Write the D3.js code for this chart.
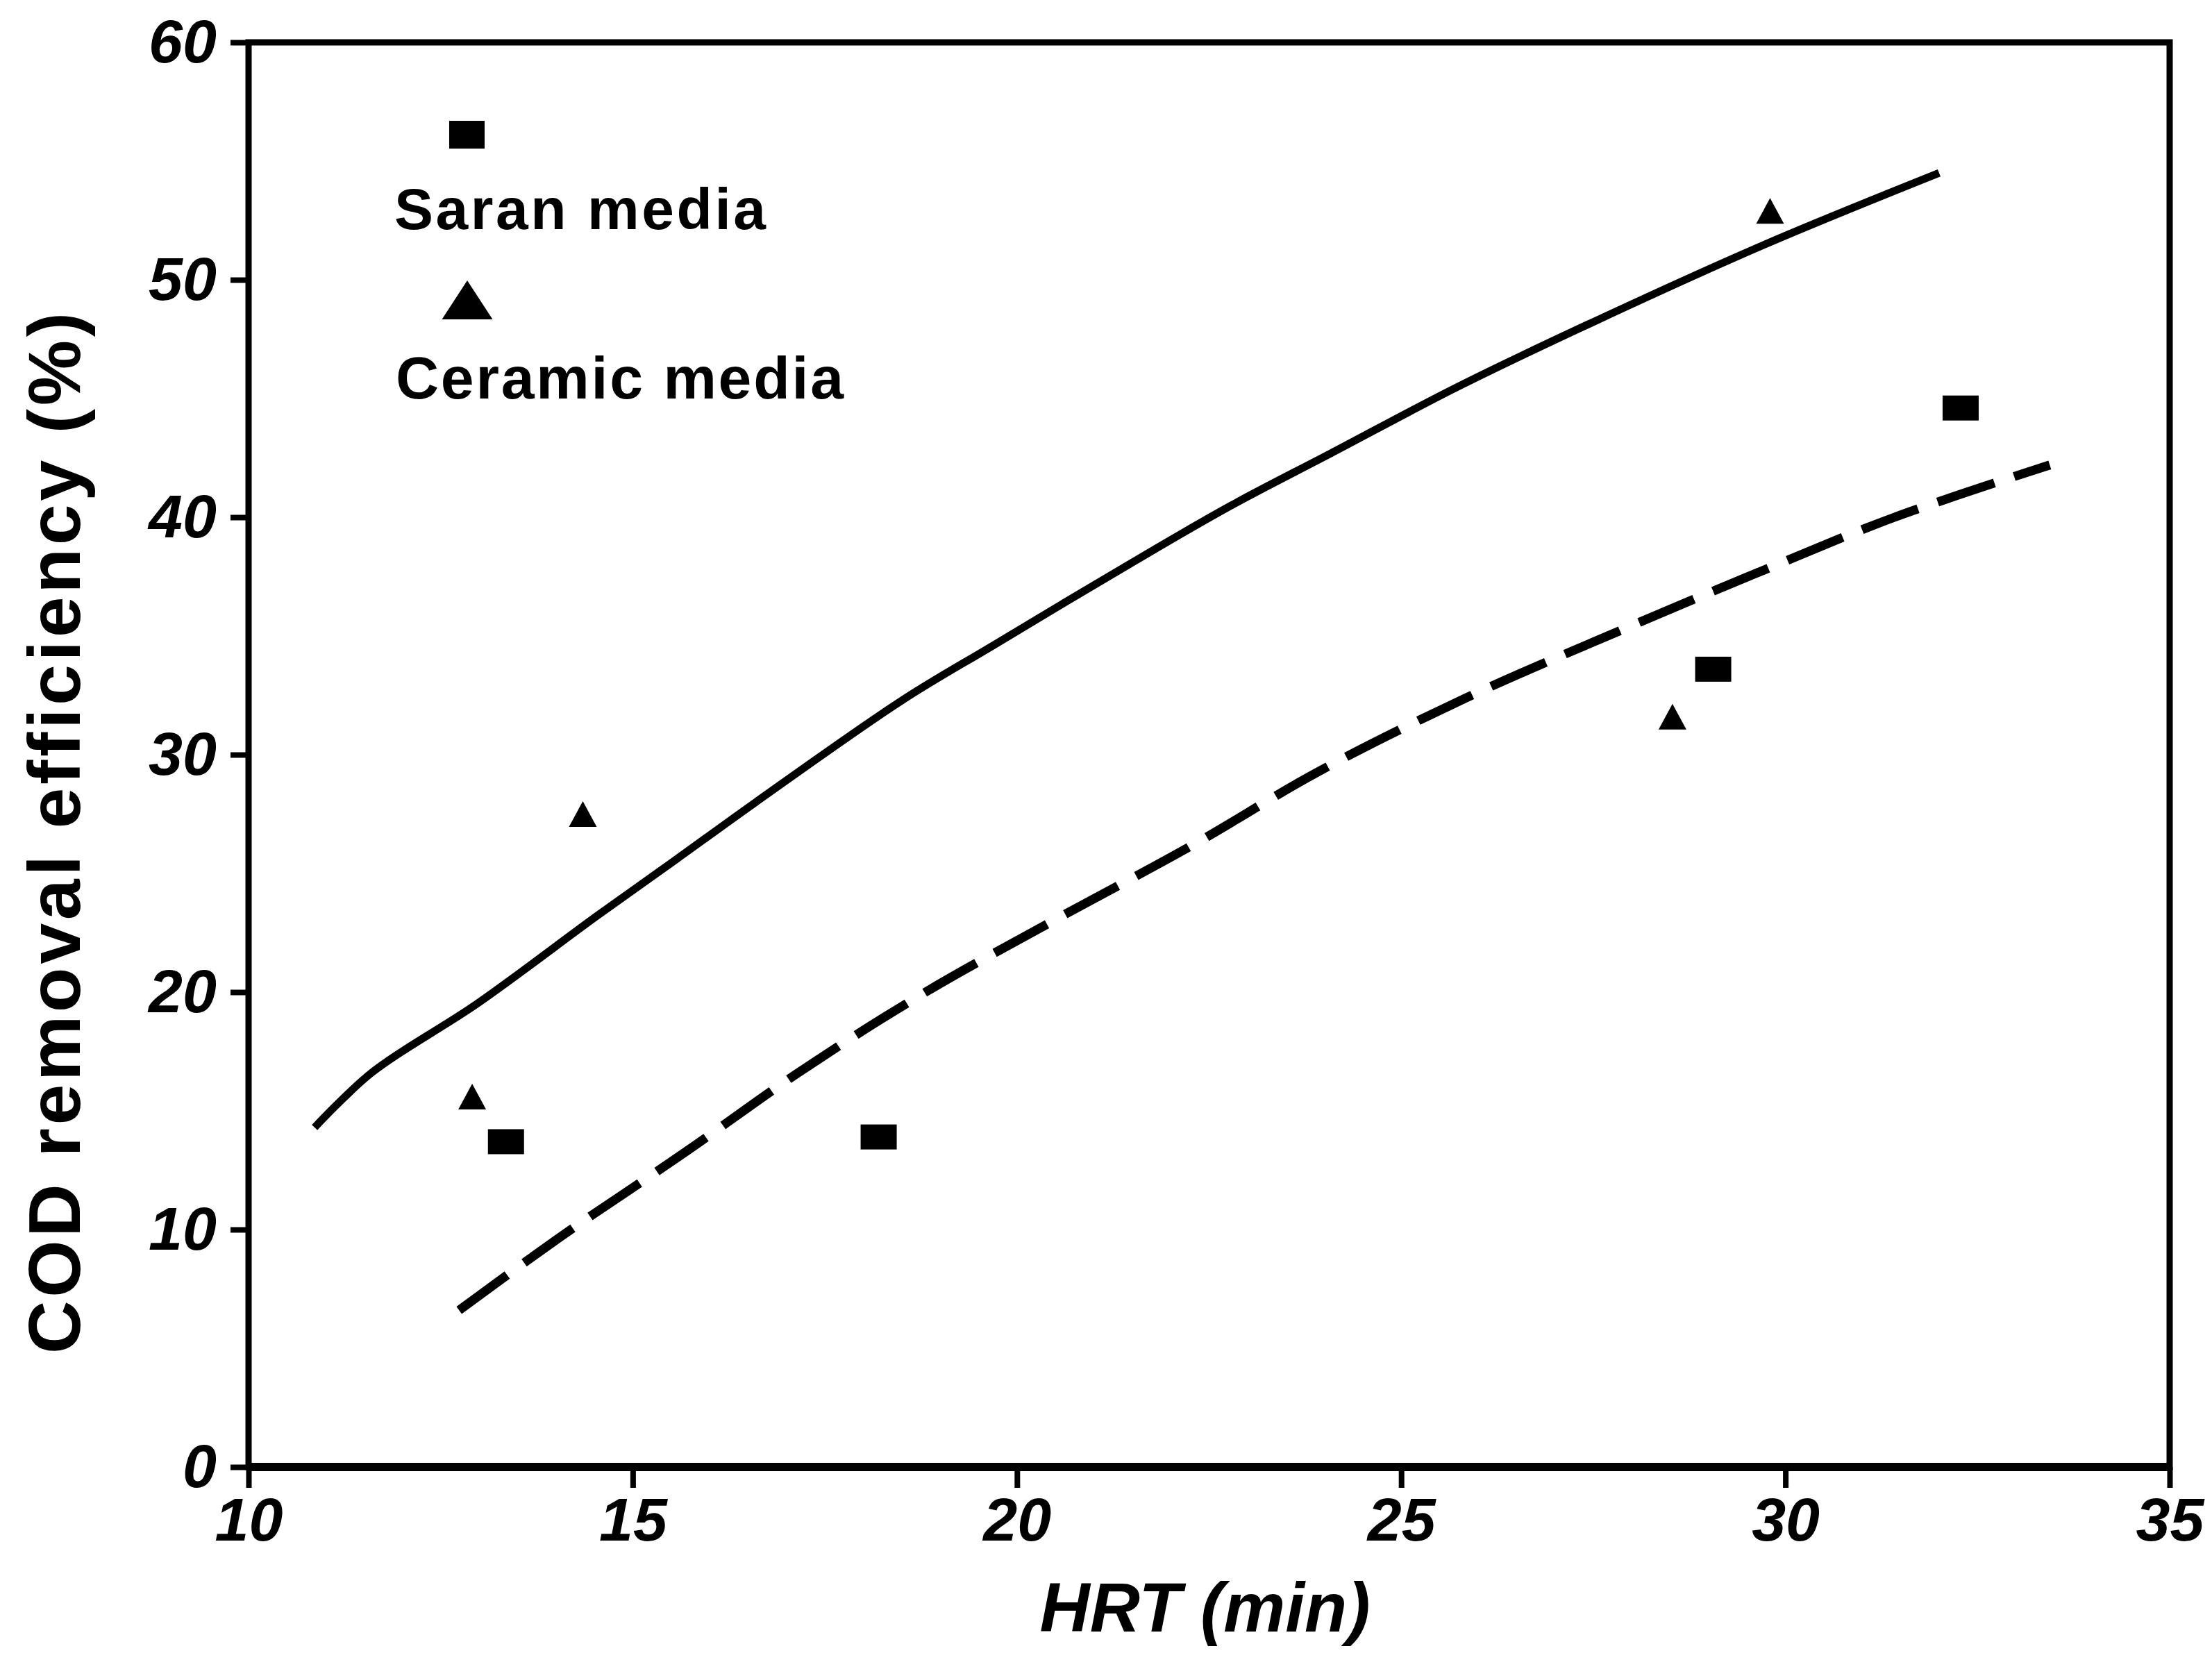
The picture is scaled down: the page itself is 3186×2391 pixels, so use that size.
<!DOCTYPE html>
<html>
<head>
<meta charset="utf-8">
<script src="https://cdn.jsdelivr.net/npm/d3@7"></script>
<style>
  body { margin: 0; background: #fff; }
  svg { display: block; }
  text { font-family: "Liberation Sans", Arial, sans-serif; font-weight: bold; fill: #000; }
</style>
</head>
<body>
<svg id="chart" width="3186" height="2391"></svg>
<script>
// tick values
const hrtTicks = [10, 15, 20, 25, 30, 35];
const codTicks = [0, 10, 20, 30, 40, 50, 60];

// measured points (HRT in min, COD removal in %)
const saranHRT = [13.35, 18.2, 29.06, 32.28];
const saranCOD = [13.7, 13.9, 33.6, 44.6];
const ceramicHRT = [12.91, 14.35, 28.53, 29.8];
const ceramicCOD = [15.6, 27.5, 31.6, 52.9];

// fitted curves
const ceramicFitHRT = [10.86, 11.6, 12.97, 14.53, 15.57, 16.6, 18.51, 19.69, 21.45, 22.79, 24.09, 25.74, 27.55, 29.74, 32.0];
const ceramicFitCOD = [14.3, 16.6, 19.5, 23.2, 25.6, 28.0, 32.3, 34.6, 38.0, 40.5, 42.7, 45.5, 48.3, 51.5, 54.5];
const saranFitHRT = [12.74, 14.04, 15.7, 17.15, 18.81, 20.47, 22.29, 23.93, 25.85, 27.83, 29.59, 31.42, 33.44];
const saranFitCOD = [6.6, 9.65, 13.3, 16.6, 20.0, 23.0, 26.2, 29.3, 32.4, 35.2, 37.6, 40.0, 42.2];

const legendLabels = ["Saran media", "Ceramic media"];

const svg = d3.select("#chart");
svg.append("rect").attr("width", 3186).attr("height", 2391).attr("fill", "#fff");

const x = d3.scaleLinear().domain([10, 35]).range([358, 3125]);
const y = d3.scaleLinear().domain([0, 60]).range([2113, 61]);

const zip = (a, b) => a.map((v, i) => [v, b[i]]);

// frame
svg.append("rect")
  .attr("x", x(10)).attr("y", y(60))
  .attr("width", x(35) - x(10)).attr("height", y(0) - y(60))
  .attr("fill", "none").attr("stroke", "#000").attr("stroke-width", 9);
svg.append("line")
  .attr("x1", x(10)).attr("x2", x(35)).attr("y1", y(0)).attr("y2", y(0))
  .attr("stroke", "#000").attr("stroke-width", 12);

// axes
const xAxis = svg.append("g")
  .attr("transform", `translate(0,${y(0)})`)
  .call(d3.axisBottom(x).tickValues(hrtTicks).tickSize(30).tickSizeOuter(0).tickPadding(14));
const yAxis = svg.append("g")
  .attr("transform", `translate(${x(10)},0)`)
  .call(d3.axisLeft(y).tickValues(codTicks).tickSize(26).tickSizeOuter(0).tickPadding(20));

[xAxis, yAxis].forEach(g => {
  g.select(".domain").remove();
  g.selectAll(".tick line").attr("stroke", "#000").attr("stroke-width", 8);
  g.selectAll(".tick text")
    .style("font-size", "88px")
    .style("font-style", "italic")
    .style("font-family", "'Liberation Sans', Arial, sans-serif")
    .style("font-weight", "bold")
    .attr("fill", "#000");
});

// axis titles
svg.append("text")
  .attr("x", (x(10) + x(35)) / 2 - 6)
  .attr("y", 2350)
  .attr("text-anchor", "middle")
  .style("font-size", "100px")
  .style("font-style", "italic")
  .text("HRT (min)");

svg.append("text")
  .attr("transform", `translate(115,1200) rotate(-90)`)
  .attr("text-anchor", "middle")
  .attr("textLength", 1500)
  .attr("lengthAdjust", "spacing")
  .style("font-size", "106px")
  .text("COD removal efficiency (%)");

// fitted lines
const line = d3.line()
  .x(d => x(d[0]))
  .y(d => y(d[1]))
  .curve(d3.curveCatmullRom.alpha(0.5));

svg.append("path")
  .attr("d", line(zip(ceramicFitHRT, ceramicFitCOD)))
  .attr("fill", "none").attr("stroke", "#000").attr("stroke-width", 11);

svg.append("path")
  .attr("d", line(zip(saranFitHRT, saranFitCOD)))
  .attr("fill", "none").attr("stroke", "#000").attr("stroke-width", 13)
  .attr("stroke-dasharray", "86 30");

// markers
function triangle(cx, cy, w, h) {
  return `M${cx},${cy - h / 2}L${cx + w / 2},${cy + h / 2}L${cx - w / 2},${cy + h / 2}Z`;
}

svg.append("g").selectAll("rect")
  .data(zip(saranHRT, saranCOD))
  .enter()
  .append("rect")
  .attr("x", d => x(d[0]) - 26)
  .attr("y", d => y(d[1]) - 18)
  .attr("width", 52)
  .attr("height", 36)
  .attr("fill", "#000");

svg.append("g").selectAll("path")
  .data(zip(ceramicHRT, ceramicCOD))
  .enter()
  .append("path")
  .attr("d", d => triangle(x(d[0]), y(d[1]), 40, 37))
  .attr("fill", "#000");

// legend
const legend = svg.append("g");
legend.append("rect")
  .attr("x", 647).attr("y", 174).attr("width", 51).attr("height", 40)
  .attr("fill", "#000");
legend.append("text")
  .attr("x", 568).attr("y", 330)
  .attr("textLength", 535).attr("lengthAdjust", "spacing")
  .style("font-size", "84px")
  .text(legendLabels[0]);
legend.append("path")
  .attr("d", triangle(673, 432, 73, 56))
  .attr("fill", "#000");
legend.append("text")
  .attr("x", 570).attr("y", 574)
  .attr("textLength", 645).attr("lengthAdjust", "spacing")
  .style("font-size", "86px")
  .text(legendLabels[1]);
</script>
</body>
</html>
